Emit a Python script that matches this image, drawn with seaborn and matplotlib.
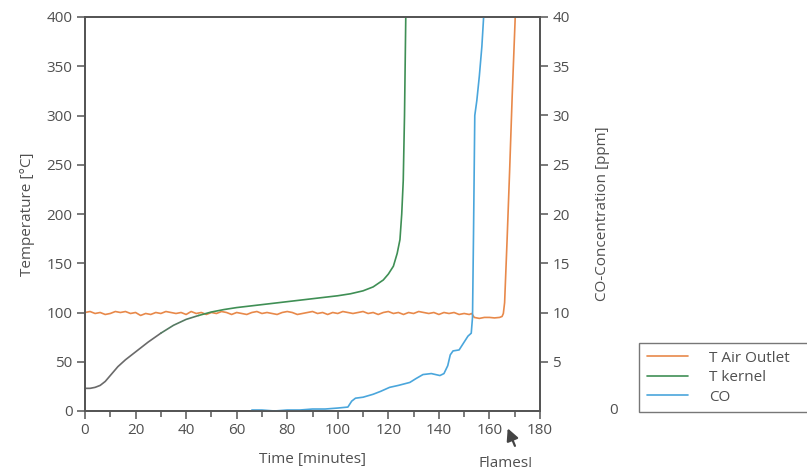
import numpy as np
import pandas as pd
import matplotlib
matplotlib.use("Agg")
import matplotlib.pyplot as plt
import seaborn as sns

# values
air_time = [0, 2, 4, 6, 8, 10, 12, 14, 16, 18, 20, 22, 24, 26, 28, 30, 32, 34, 36, 38,
            40, 42, 44, 46, 48, 50, 52, 54, 56, 58, 60, 62, 64, 66, 68, 70, 72, 74, 76,
            78, 80, 82, 84, 86, 88, 90, 92, 94, 96, 98, 100, 102, 104, 106, 108, 110,
            112, 114, 116, 118, 120, 122, 124, 126, 128, 130, 132, 134, 136, 138, 140,
            142, 144, 146, 148, 150, 152, 153, 154, 156, 158, 160, 162, 164, 165,
            165.5, 166, 167, 168, 169, 170.2]
air_temp = [100, 101, 99, 100, 98, 99, 101, 100, 101, 99, 100, 97, 99, 98, 100, 99,
            101, 100, 99, 100, 98, 101, 99, 100, 98, 100, 99, 101, 100, 98, 100, 99,
            98, 100, 101, 99, 100, 99, 98, 100, 101, 100, 98, 99, 100, 101, 99, 100,
            98, 100, 99, 101, 100, 99, 100, 101, 99, 100, 98, 100, 101, 99, 100, 98,
            100, 99, 101, 100, 99, 100, 98, 100, 99, 100, 98, 99, 98, 99, 95, 94, 95,
            95, 94.5, 95, 96, 99, 110, 175, 245, 320, 400]

kernel_time = [0, 2, 4, 6, 8, 10, 13, 16, 20, 25, 30, 35, 40, 45, 50, 55, 60, 70, 80,
               90, 100, 105, 110, 114, 118, 120, 122, 123.5, 124.6, 125.3, 125.9,
               126.4, 126.9]
kernel_temp = [23, 23, 24, 26, 30, 36, 45, 52, 60, 70, 79, 87, 93, 97, 100.5, 103, 105,
               108, 111, 114, 117, 119, 122, 126, 133, 139, 147, 160, 174, 200, 234,
               300, 400]

co_time = [66, 70, 75, 80, 85, 90, 95, 100, 104, 105.5, 107, 110, 114, 117, 120.5,
           124, 128.5, 131, 133.7, 137, 140.4, 142, 143.5, 144.5, 145.6, 148, 150,
           151.5, 152.8, 153.3, 153.7, 154.2, 155, 156, 157, 157.7]
co_ppm = [0.1, 0.1, 0.0, 0.1, 0.1, 0.2, 0.2, 0.3, 0.4, 1.0, 1.3, 1.4, 1.7, 2.0, 2.4,
          2.6, 2.9, 3.3, 3.7, 3.8, 3.6, 3.8, 4.6, 5.7, 6.1, 6.2, 7.0, 7.6, 7.9, 9.5,
          18, 30, 31.5, 34, 37, 40]

legend_labels = ["T Air Outlet", "T kernel", "CO"]

c_air = "#e8894a"
c_kernel = "#3f8f55"
c_co = "#4aa6dc"
txt = "#505050"
fs = 11

sns.set_style("ticks")
plt.rcParams["font.family"] = ["Open Sans", "DejaVu Sans"]
plt.rcParams["text.color"] = txt
plt.rcParams["axes.labelcolor"] = txt
plt.rcParams["xtick.color"] = "#555555"
plt.rcParams["ytick.color"] = "#555555"
plt.rcParams["xtick.labelcolor"] = txt
plt.rcParams["ytick.labelcolor"] = txt

fig = plt.figure(figsize=(8.07, 4.71), dpi=100)
ax = fig.add_axes([85 / 807, 1 - 411 / 471, 455 / 807, 394 / 471])
ax2 = ax.twinx()

air = pd.DataFrame({"t": air_time, "v": air_temp})
ker = pd.DataFrame({"t": kernel_time, "v": kernel_temp})
co = pd.DataFrame({"t": co_time, "v": co_ppm})

sns.lineplot(data=air, x="t", y="v", ax=ax, color=c_air, lw=1.2, legend=False)
ker_a = ker[ker["t"] <= 30]
ker_b = ker[(ker["t"] >= 30) & (ker["t"] <= 45)]
ker_c = ker[ker["t"] >= 45]
sns.lineplot(data=ker_a, x="t", y="v", ax=ax, color="#6a6a6a", lw=1.2, legend=False)
sns.lineplot(data=ker_b, x="t", y="v", ax=ax, color="#557a62", lw=1.2, legend=False)
sns.lineplot(data=ker_c, x="t", y="v", ax=ax, color=c_kernel, lw=1.2, legend=False)
sns.lineplot(data=co, x="t", y="v", ax=ax2, color=c_co, lw=1.2, legend=False)

ax.set_xlim(0, 180)
ax.set_ylim(0, 400)
ax2.set_ylim(0, 40)
ax.set_xticks(range(0, 181, 20))
ax.set_xticks(range(10, 180, 20), minor=True)
ax.set_yticks(range(0, 401, 50))
ax2.set_yticks(range(5, 41, 5))

for a in (ax, ax2):
    for s in a.spines.values():
        s.set_visible(True)
        s.set_color("#555555")
        s.set_linewidth(1.3)
    a.tick_params(axis="both", which="major", length=6, width=1.1, labelsize=fs, pad=3)
    a.tick_params(axis="both", which="minor", length=4, width=1.1)

ax.set_xlabel("Time [minutes]", fontsize=fs, labelpad=10)
ax.set_ylabel("Temperature [°C]", fontsize=fs, labelpad=8)
ax2.set_ylabel("CO-Concentration [ppm]", fontsize=fs, labelpad=18)

fig.text(614 / 807, 1 - 411 / 471, "0", ha="center", va="center", fontsize=fs, color=txt)

ax.annotate("", xy=(166.8, -15), xytext=(170.5, -38), annotation_clip=False,
            arrowprops=dict(arrowstyle="-|>", color="#444444", lw=1.6, mutation_scale=18))
ax.text(166.5, -53, "Flames!", ha="center", va="center", fontsize=fs, color=txt,
        clip_on=False)

handles = [plt.Line2D([], [], color=c_air, lw=1.2),
           plt.Line2D([], [], color=c_kernel, lw=1.2),
           plt.Line2D([], [], color=c_co, lw=1.2)]
leg = fig.legend(handles, legend_labels, loc="upper left",
                 bbox_to_anchor=(639 / 807, 1 - 343 / 471, 200 / 807, 0.0), mode="expand",
                 frameon=True, fancybox=False, fontsize=fs, handlelength=2.7,
                 handletextpad=1.4, labelspacing=0.3, borderpad=0.5, borderaxespad=0)
leg.get_frame().set_edgecolor("#555555")
leg.get_frame().set_linewidth(1.0)

fig.savefig("out.png", dpi=100)
